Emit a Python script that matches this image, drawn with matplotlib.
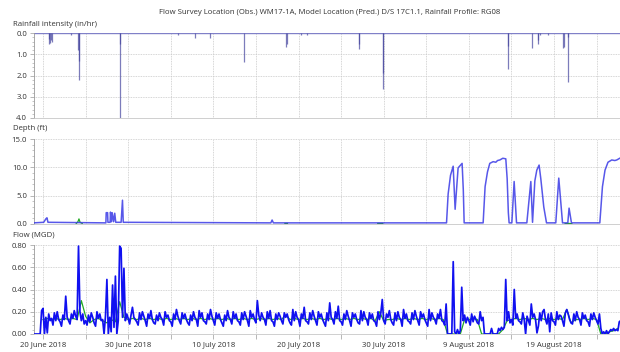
import matplotlib
matplotlib.use("Agg")
import matplotlib.pyplot as plt
import matplotlib.dates as mdates
from matplotlib.ticker import MultipleLocator, AutoMinorLocator, FormatStrFormatter, FixedLocator
import numpy as np
import pandas as pd

plt.rcParams['font.family'] = ['Open Sans', 'DejaVu Sans']

TITLE = "Flow Survey Location (Obs.) WM17-1A, Model Location (Pred.) D/S 17C1.1, Rainfall Profile: RG08"
ORIGIN = pd.Timestamp("2018-06-20")

# ---- Rainfall (days after 20 June 2018, in/hr)
rain_day = [0.65, 0.72, 0.80, 0.92, 1.05, 3.29, 4.15, 4.18, 4.22, 8.98, 9.02,
            15.88, 17.90, 19.55, 23.65, 28.58, 28.62, 30.35, 31.05, 37.05, 37.10,
            39.88, 39.90, 54.60, 54.62, 57.40, 58.10, 58.15, 58.40, 59.28,
            61.05, 61.20, 61.65, 61.68]
rain_val = [0.50, 0.30, 0.45, 0.35, 0.40, 0.10, 0.80, 2.20, 1.30, 0.50, 4.00,
            0.08, 0.25, 0.25, 1.35, 0.65, 0.50, 0.08, 0.08, 0.75, 0.50,
            2.65, 1.90, 1.70, 0.60, 0.70, 0.50, 0.35, 0.10, 0.10,
            0.70, 0.65, 2.30, 0.20]

# ---- Observed depth (days after 20 June 2018, ft)
depth_day = [-1.1, 0.08, 0.33, 0.46, 0.58, 7.38, 7.42, 7.58, 7.62, 7.88, 7.92, 8.04,
             8.12, 8.29, 8.42, 8.54, 9.17, 9.33, 9.42, 26.75, 26.90, 27.05,
             47.38, 47.57, 47.85, 48.16, 48.39, 48.74, 49.21, 49.35, 49.45,
             51.68, 51.91, 52.19, 52.46, 52.85, 53.17, 53.37, 53.64, 53.99, 54.34,
             54.50, 54.64, 54.73, 55.05, 55.32, 55.60, 56.81, 57.28, 57.48, 57.75,
             57.98, 58.25, 58.45, 58.80, 59.12, 60.21, 60.56, 61.00, 61.62, 61.77,
             62.05, 65.38, 65.69, 65.99, 66.34, 66.78, 67.14, 67.37, 67.72]
depth_obs = [0.2, 0.3, 0.9, 1.1, 0.3, 0.2, 2.0, 2.0, 0.3, 0.3, 2.1, 0.4,
             2.0, 0.4, 1.9, 0.3, 0.3, 4.2, 0.3, 0.2, 0.7, 0.2,
             0.2, 5.3, 8.6, 10.2, 2.6, 9.9, 10.7, 6.0, 0.2,
             0.2, 6.6, 9.2, 10.7, 11.0, 10.9, 11.2, 11.3, 11.6, 11.5,
             8.0, 2.0, 0.2, 0.2, 7.5, 0.2, 0.2, 7.5, 0.3, 7.6,
             9.5, 10.4, 8.0, 3.0, 0.2, 0.2, 8.1, 0.2, 0.2, 2.8,
             0.2, 0.2, 6.6, 9.5, 10.9, 11.3, 11.2, 11.3, 11.6]

# ---- Predicted depth (days after 20 June 2018, ft); NaN = no model output shown
depth_pred_day = [3.90, 4.10, 4.22, 4.35, 4.60, 4.70,
                  28.40, 28.70, 28.80,
                  39.30, 39.90, 40.00,
                  61.30, 61.60, 61.80, 62.10]
depth_pred = [0.1, 0.4, 0.9, 0.3, 0.1, np.nan,
              0.1, 0.1, np.nan,
              0.1, 0.1, np.nan,
              0.05, 0.1, 0.1, 0.05]

# ---- Predicted flow (MGD), twice daily from 20 June 2018 00:00
flow_pred = [0.13, 0.14, 0.13, 0.14, 0.13, 0.14, 0.13, 0.14, 0.13, 0.30,
             0.16, 0.10, 0.13, 0.14, 0.12, 0.10, 0.13, 0.11, 0.29, 0.15,
             0.13, 0.14, 0.13, 0.14, 0.13, 0.14, 0.13, 0.14, 0.13, 0.14,
             0.13, 0.14, 0.13, 0.14, 0.13, 0.14, 0.13, 0.14, 0.13, 0.14,
             0.13, 0.14, 0.13, 0.14, 0.13, 0.14, 0.13, 0.14, 0.13, 0.14,
             0.13, 0.14, 0.13, 0.14, 0.13, 0.14, 0.13, 0.17, 0.13, 0.14,
             0.13, 0.14, 0.13, 0.14, 0.13, 0.14, 0.13, 0.14, 0.13, 0.14,
             0.13, 0.14, 0.13, 0.14, 0.13, 0.14, 0.13, 0.14, 0.12, 0.20,
             0.12, 0.13, 0.13, 0.14, 0.13, 0.14, 0.13, 0.14, 0.13, 0.14,
             0.13, 0.14, 0.13, 0.14, 0.13, 0.00, 0.00, 0.00, 0.00, 0.13,
             0.13, 0.14, 0.13, 0.00, 0.00, 0.00, 0.00, 0.00, 0.04, 0.12,
             0.13, 0.14, 0.13, 0.14, 0.13, 0.14, 0.13, 0.14, 0.13, 0.14,
             0.13, 0.14, 0.13, 0.22, 0.10, 0.13, 0.13, 0.14, 0.13, 0.14,
             0.13, 0.00, 0.00, 0.02, 0.03, 0.05]

# ---- Observed flow, every 4 hours from 19 June 2018 00:00 (MGD)
flow_obs = [
    0.00, 0.00, 0.00, 0.00, 0.00, 0.21,
    0.23, 0.00, 0.15, 0.01, 0.18, 0.12,
    0.14, 0.08, 0.19, 0.12, 0.20, 0.13,
    0.11, 0.07, 0.17, 0.13, 0.34, 0.15,
    0.12, 0.09, 0.18, 0.14, 0.21, 0.16,
    0.13, 0.79, 0.20, 0.12, 0.18, 0.09,
    0.12, 0.08, 0.17, 0.11, 0.19, 0.15,
    0.10, 0.07, 0.20, 0.14, 0.18, 0.12,
    0.13, 0.00, 0.16, 0.49, 0.00, 0.15,
    0.02, 0.44, 0.06, 0.52, 0.00, 0.12,
    0.79, 0.77, 0.15, 0.59, 0.12, 0.18,
    0.14, 0.09, 0.17, 0.24, 0.15, 0.13,
    0.11, 0.08, 0.19, 0.13, 0.20, 0.16,
    0.12, 0.07, 0.18, 0.14, 0.21, 0.13,
    0.10, 0.09, 0.17, 0.12, 0.19, 0.15,
    0.13, 0.08, 0.20, 0.15, 0.17, 0.12,
    0.11, 0.07, 0.18, 0.13, 0.22, 0.16,
    0.12, 0.09, 0.19, 0.14, 0.18, 0.13,
    0.10, 0.08, 0.17, 0.12, 0.20, 0.15,
    0.13, 0.07, 0.21, 0.15, 0.19, 0.12,
    0.11, 0.09, 0.18, 0.13, 0.22, 0.16,
    0.12, 0.08, 0.19, 0.14, 0.18, 0.13,
    0.10, 0.07, 0.17, 0.12, 0.21, 0.15,
    0.13, 0.09, 0.20, 0.14, 0.18, 0.12,
    0.11, 0.08, 0.19, 0.13, 0.20, 0.16,
    0.12, 0.07, 0.21, 0.15, 0.18, 0.13,
    0.10, 0.30, 0.17, 0.12, 0.19, 0.15,
    0.13, 0.08, 0.20, 0.14, 0.21, 0.12,
    0.11, 0.07, 0.18, 0.13, 0.19, 0.16,
    0.12, 0.09, 0.19, 0.15, 0.18, 0.13,
    0.10, 0.08, 0.22, 0.12, 0.20, 0.15,
    0.13, 0.07, 0.18, 0.14, 0.24, 0.12,
    0.11, 0.09, 0.19, 0.13, 0.21, 0.16,
    0.12, 0.08, 0.20, 0.15, 0.18, 0.13,
    0.10, 0.07, 0.19, 0.12, 0.28, 0.15,
    0.13, 0.09, 0.20, 0.14, 0.25, 0.12,
    0.11, 0.08, 0.18, 0.13, 0.21, 0.16,
    0.12, 0.07, 0.19, 0.15, 0.18, 0.13,
    0.10, 0.09, 0.21, 0.12, 0.20, 0.15,
    0.13, 0.08, 0.19, 0.14, 0.18, 0.12,
    0.11, 0.07, 0.20, 0.13, 0.19, 0.31,
    0.12, 0.09, 0.18, 0.15, 0.21, 0.13,
    0.10, 0.08, 0.19, 0.12, 0.20, 0.15,
    0.13, 0.07, 0.22, 0.14, 0.18, 0.12,
    0.11, 0.09, 0.19, 0.13, 0.21, 0.16,
    0.12, 0.08, 0.20, 0.15, 0.18, 0.13,
    0.10, 0.07, 0.22, 0.12, 0.19, 0.15,
    0.13, 0.09, 0.18, 0.14, 0.22, 0.12,
    0.11, 0.08, 0.27, 0.00, 0.00, 0.00,
    0.00, 0.65, 0.02, 0.00, 0.04, 0.00,
    0.03, 0.42, 0.12, 0.17, 0.10, 0.15,
    0.12, 0.08, 0.18, 0.11, 0.16, 0.13,
    0.10, 0.09, 0.20, 0.12, 0.15, 0.00,
    0.00, 0.00, 0.00, 0.00, 0.05, 0.00,
    0.00, 0.00, 0.00, 0.05, 0.03, 0.06,
    0.04, 0.06, 0.49, 0.12, 0.20, 0.10,
    0.13, 0.08, 0.40, 0.14, 0.18, 0.12,
    0.11, 0.09, 0.19, 0.13, 0.00, 0.16,
    0.12, 0.08, 0.27, 0.15, 0.18, 0.13,
    0.01, 0.07, 0.19, 0.12, 0.20, 0.22,
    0.13, 0.09, 0.18, 0.02, 0.19, 0.12,
    0.11, 0.08, 0.20, 0.13, 0.17, 0.16,
    0.12, 0.07, 0.19, 0.22, 0.18, 0.13,
    0.10, 0.09, 0.18, 0.12, 0.20, 0.15,
    0.13, 0.08, 0.19, 0.14, 0.17, 0.12,
    0.11, 0.07, 0.18, 0.13, 0.19, 0.15,
    0.12, 0.09, 0.18, 0.05, 0.00, 0.02,
    0.00, 0.03, 0.00, 0.02, 0.04, 0.03,
    0.05, 0.03, 0.04, 0.03, 0.11, 0.12,
]

# ---------------------------------------------------------------
def to_dates(days):
    return ORIGIN + pd.to_timedelta(np.asarray(days, dtype=float), unit="D")

rain_t = to_dates(rain_day)
depth_t = to_dates(depth_day)
depth_pred_t = to_dates(depth_pred_day)
pred_t = pd.date_range("2018-06-20", periods=len(flow_pred), freq="12h")
flow_t = pd.date_range("2018-06-19", periods=len(flow_obs), freq="4h")

W, H = 620, 352
fig = plt.figure(figsize=(W / 100, H / 100), dpi=100)
fig.patch.set_facecolor("white")

def fx(px):
    return px / W

def ax_rect(top, bottom):
    return [fx(34), 1 - bottom / H, fx(620 - 34), (bottom - top) / H]

ax1 = fig.add_axes(ax_rect(33, 118))
ax2 = fig.add_axes(ax_rect(139, 224))
ax3 = fig.add_axes(ax_rect(245, 334))

xmin = ORIGIN + pd.Timedelta(days=-1.06)
xmax = ORIGIN + pd.Timedelta(days=67.75)

TXT = "#333333"
GRID = "#c8c8c8"
FS = 5.6

grid_days = pd.date_range("2018-06-20", "2018-08-29", freq="5D")

for ax in (ax1, ax2, ax3):
    ax.set_xlim(xmin, xmax)
    ax.xaxis.set_major_locator(FixedLocator(mdates.date2num(grid_days)))
    ax.tick_params(axis="x", which="major", length=0, labelbottom=False)
    ax.grid(True, which="major", axis="both", color=GRID, linestyle=(0, (1, 1)), linewidth=0.6)
    for s in ("top", "right"):
        ax.spines[s].set_visible(False)
    ax.spines["left"].set_color("#9a9a9a")
    ax.spines["left"].set_linewidth(0.6)
    ax.spines["bottom"].set_color("#c8c8c8")
    ax.spines["bottom"].set_linewidth(0.6)
    ax.tick_params(axis="y", which="major", length=3, width=0.5, color="#9a9a9a",
                   labelsize=FS, labelcolor=TXT, pad=2)
    ax.tick_params(axis="y", which="minor", length=1.5, width=0.4, color="#9a9a9a")
    ax.yaxis.set_minor_locator(AutoMinorLocator(5))
    ax.set_axisbelow(True)

# ---- Rainfall
ax1.axhline(0, color="#8080c8", linewidth=1.0, zorder=2)
ax1.vlines(rain_t, 0, rain_val, color="#45459e", linewidth=0.9, alpha=0.7, zorder=3)
ax1.set_ylim(4.0, 0.0)
ax1.yaxis.set_major_locator(MultipleLocator(1.0))
ax1.yaxis.set_major_formatter(FormatStrFormatter("%.1f"))

# ---- Depth
ax2.plot(depth_pred_t, depth_pred, color="#22aa22", linewidth=0.9, zorder=2)
ax2.plot(depth_t, depth_obs, color="#3a3ae6", linewidth=1.1, zorder=3, alpha=0.85)
ax2.set_ylim(0, 15.0)
ax2.yaxis.set_major_locator(MultipleLocator(5.0))
ax2.yaxis.set_major_formatter(FormatStrFormatter("%.1f"))

# ---- Flow
ax3.plot(pred_t, flow_pred, color="#22aa22", linewidth=0.9, zorder=2)
ax3.plot(flow_t, flow_obs, color="#1010f0", linewidth=1.25, zorder=3)
ax3.set_ylim(0, 0.80)
ax3.yaxis.set_major_locator(MultipleLocator(0.2))
ax3.yaxis.set_major_formatter(FormatStrFormatter("%.2f"))
ax3.tick_params(axis="x", which="major", length=3.5, width=0.5, color="#9a9a9a",
                labelbottom=True, labelsize=FS, labelcolor=TXT, pad=2)
labels = [f"{d.day} {d.strftime('%B %Y')}" if (i % 2 == 0) else "" for i, d in enumerate(grid_days)]
ax3.set_xticklabels(labels)

# ---- Texts
fig.text(fx(330), 1 - 13 / H, TITLE, ha="center", va="center", fontsize=FS, color=TXT)
fig.text(fx(13), 1 - 24 / H, "Rainfall intensity (in/hr)", ha="left", va="center", fontsize=FS, color=TXT)
fig.text(fx(13), 1 - 129 / H, "Depth (ft)", ha="left", va="center", fontsize=FS, color=TXT)
fig.text(fx(13), 1 - 235 / H, "Flow (MGD)", ha="left", va="center", fontsize=FS, color=TXT)

fig.savefig("out.png", dpi=100, facecolor="white")
